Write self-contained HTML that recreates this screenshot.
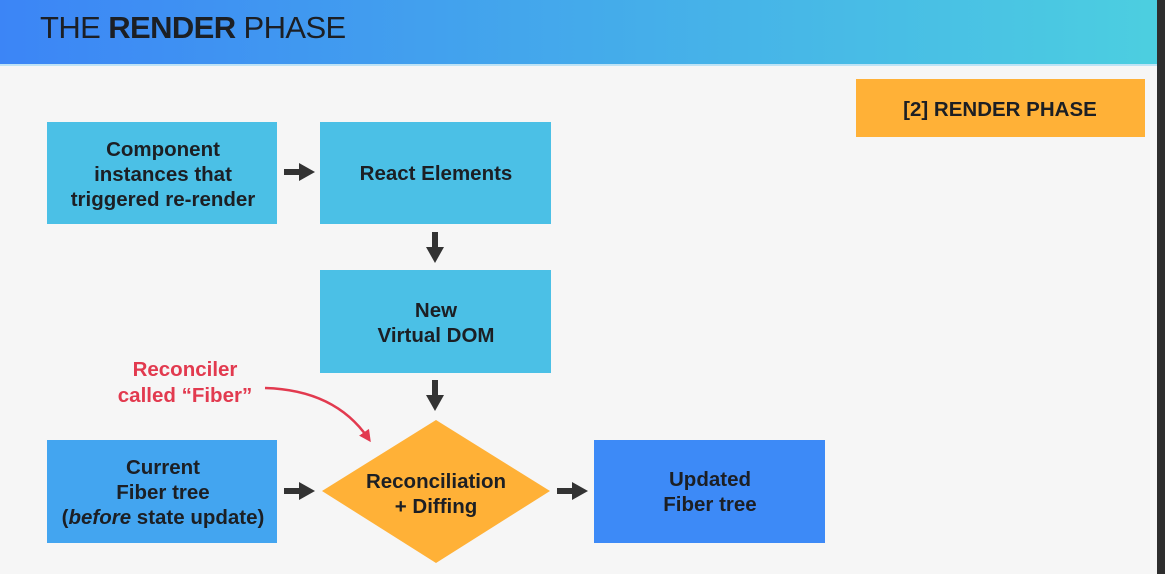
<!DOCTYPE html>
<html><head><meta charset="utf-8"><style>
html,body{margin:0;padding:0;width:1165px;height:574px;overflow:hidden;background:#f6f6f6}
svg{display:block}
text{font-family:"Liberation Sans",sans-serif;font-weight:bold;fill:#1c1f24;text-anchor:middle;font-size:20.5px}
</style></head><body>
<svg width="1165" height="574" viewBox="0 0 1165 574">
<defs><linearGradient id="g" x1="0" x2="1"><stop offset="0" stop-color="#3c85f6"/><stop offset="1" stop-color="#4ccfe0"/></linearGradient>
<marker id="r" markerWidth="12" markerHeight="12" refX="7" refY="6" orient="auto" markerUnits="userSpaceOnUse"><path d="M0,0 L12,6 L0,12 Z" fill="#e23a4f"/></marker></defs>
<rect x="0" y="0" width="1165" height="574" fill="#f6f6f6"/>
<rect x="0" y="0" width="1165" height="64" fill="url(#g)"/>
<rect x="0" y="64" width="1165" height="2" fill="#bfe3f5"/>
<text x="40" y="38" style="text-anchor:start;font-size:31px;font-weight:normal;letter-spacing:-0.6px" fill="#23272e">THE <tspan font-weight="bold">RENDER</tspan> PHASE</text>
<rect x="1157" y="0" width="8" height="574" fill="#2e2e2e"/>
<rect x="856" y="79" width="289" height="58" fill="#ffb137"/>
<text x="1000" y="116">[2] RENDER PHASE</text>
<rect x="47" y="122" width="230" height="102" fill="#4bc0e6"/>
<text x="163" y="156">Component</text><text x="163" y="181">instances that</text><text x="163" y="206">triggered re-render</text>
<rect x="320" y="122" width="231" height="102" fill="#4bc0e6"/>
<text x="436" y="180">React Elements</text>
<rect x="320" y="270" width="231" height="103" fill="#4bc0e6"/>
<text x="436" y="317">New</text><text x="436" y="342">Virtual DOM</text>
<rect x="47" y="440" width="230" height="103" fill="#43a5f0"/>
<text x="163" y="474">Current</text><text x="163" y="499">Fiber tree</text><text x="163" y="524">(<tspan font-style="italic">before</tspan> state update)</text>
<polygon points="436,420 550,491 436,563 322,491" fill="#ffb137"/>
<text x="436" y="488">Reconciliation</text><text x="436" y="513">+ Diffing</text>
<rect x="594" y="440" width="231" height="103" fill="#3d8af7"/>
<text x="710" y="486">Updated</text><text x="710" y="511">Fiber tree</text>
<g fill="#333"><rect x="284" y="169" width="16" height="6"/><path d="M299,163 L315,172 L299,181Z"/>
<rect x="432" y="232" width="6" height="16"/><path d="M426,247 L435,263 L444,247Z"/>
<rect x="432" y="380" width="6" height="16"/><path d="M426,395 L435,411 L444,395Z"/>
<rect x="284" y="488" width="16" height="6"/><path d="M299,482 L315,491 L299,500Z"/>
<rect x="557" y="488" width="16" height="6"/><path d="M572,482 L588,491 L572,500Z"/></g>
<text x="185" y="376" style="fill:#e23a4f">Reconciler</text>
<text x="185" y="402" style="fill:#e23a4f">called “Fiber”</text>
<path d="M265,388 Q335,390 368,438" fill="none" stroke="#e23a4f" stroke-width="2.5" marker-end="url(#r)"/>
</svg>
</body></html>
